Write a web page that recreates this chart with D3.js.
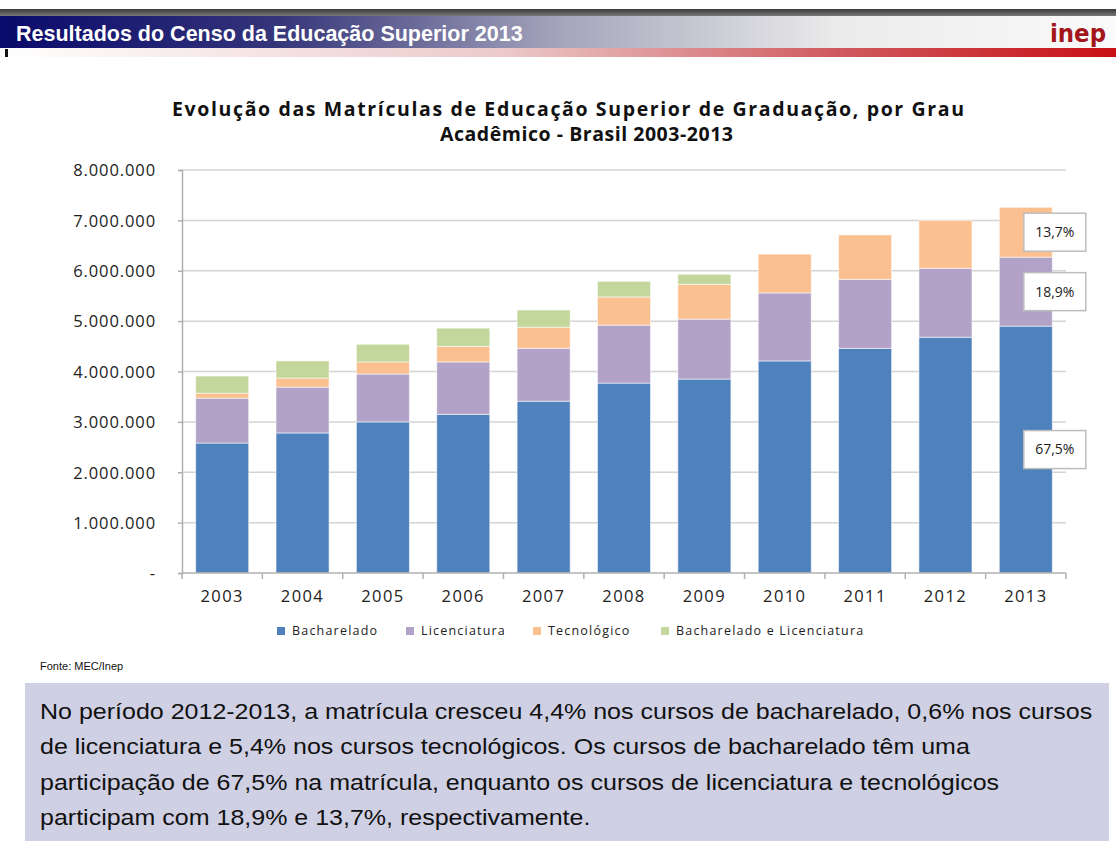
<!DOCTYPE html>
<html>
<head>
<meta charset="utf-8">
<script src="https://cdn.jsdelivr.net/npm/d3@7"></script>
<style>
  body { margin: 0; background: #fff; }
  svg { display: block; }
</style>
</head>
<body>
<script>
const years = ["2003", "2004", "2005", "2006", "2007", "2008", "2009", "2010", "2011", "2012", "2013"];
const bacharelado = [2580000, 2780000, 3000000, 3150000, 3410000, 3770000, 3850000, 4210000, 4460000, 4680000, 4900000];
const licenciatura = [890000, 910000, 950000, 1040000, 1050000, 1150000, 1190000, 1350000, 1370000, 1370000, 1370000];
const tecnologico = [100000, 180000, 240000, 310000, 420000, 560000, 690000, 770000, 880000, 950000, 990000];
const bachLic = [340000, 340000, 350000, 360000, 340000, 310000, 200000, 0, 0, 0, 0];
const seriesNames = ["Bacharelado", "Licenciatura", "Tecnológico", "Bacharelado e Licenciatura"];
const seriesColors = ["#4f81bd", "#b2a2c7", "#fac090", "#c3d69b"];
const yTicks = [0, 1000000, 2000000, 3000000, 4000000, 5000000, 6000000, 7000000, 8000000];
const shareLabels = ["67,5%", "18,9%", "13,7%"]; // 2013, por série

const W = 1116, H = 841;
const svg = d3.select("body").append("svg").attr("width", W).attr("height", H);
const defs = svg.append("defs");

// cabeçalho
const g1 = defs.append("linearGradient").attr("id", "hdr");
g1.append("stop").attr("offset", "0%").attr("stop-color", "#0a0a6c");
g1.append("stop").attr("offset", "25%").attr("stop-color", "#35357a");
g1.append("stop").attr("offset", "50%").attr("stop-color", "#a4a4bb");
g1.append("stop").attr("offset", "75%").attr("stop-color", "#ebebeb");
g1.append("stop").attr("offset", "100%").attr("stop-color", "#fafafa");
const g2 = defs.append("linearGradient").attr("id", "red");
g2.append("stop").attr("offset", "0%").attr("stop-color", "#ffffff");
g2.append("stop").attr("offset", "45%").attr("stop-color", "#eccaca");
g2.append("stop").attr("offset", "75%").attr("stop-color", "#cf5a5e");
g2.append("stop").attr("offset", "100%").attr("stop-color", "#c80f14");
const g3 = defs.append("linearGradient").attr("id", "top").attr("x2", 0).attr("y2", 1);
g3.append("stop").attr("offset", "0%").attr("stop-color", "#3a3a3a");
g3.append("stop").attr("offset", "100%").attr("stop-color", "#777");

svg.append("rect").attr("x", 0).attr("y", 9).attr("width", W).attr("height", 7).attr("fill", "url(#top)");
svg.append("rect").attr("x", 0).attr("y", 16).attr("width", W).attr("height", 32).attr("fill", "url(#hdr)");
svg.append("rect").attr("x", 0).attr("y", 48).attr("width", W).attr("height", 9).attr("fill", "url(#red)");
svg.append("rect").attr("x", 5).attr("y", 49).attr("width", 3).attr("height", 8).attr("fill", "#111");
svg.append("text").attr("x", 16).attr("y", 41)
  .attr("font-family", "Liberation Sans, Arial, sans-serif").attr("font-weight", "bold")
  .attr("font-size", 21.5).attr("fill", "#fff")
  .text("Resultados do Censo da Educação Superior 2013");
svg.append("text").attr("x", 1050).attr("y", 42)
  .attr("font-family", "DejaVu Sans, sans-serif").attr("font-weight", "bold")
  .attr("font-size", 25).attr("fill", "#a3161c")
  .attr("textLength", 56).attr("lengthAdjust", "spacingAndGlyphs")
  .text("inep");

// título do gráfico
const titleFont = "Open Sans, sans-serif";
svg.append("text").attr("x", 172).attr("y", 116)
  .attr("font-family", titleFont).attr("font-weight", "bold").attr("font-size", 19.5)
  .attr("fill", "#111").attr("textLength", 792).attr("lengthAdjust", "spacing")
  .text("Evolução das Matrículas de Educação Superior de Graduação, por Grau");
svg.append("text").attr("x", 440).attr("y", 141)
  .attr("font-family", titleFont).attr("font-weight", "bold").attr("font-size", 19.5)
  .attr("fill", "#111").attr("textLength", 293).attr("lengthAdjust", "spacing")
  .text("Acadêmico - Brasil 2003-2013");

// escalas
const x = d3.scaleBand().domain(years).range([182, 1066]).paddingInner(0.34).paddingOuter(0.17);
const y = d3.scaleLinear().domain([0, 8000000]).range([573, 170]);

const tickFmt = v => v === 0 ? "-" : d3.format(",")(v).replace(/,/g, ".");

// grade
svg.append("g").selectAll("line").data(yTicks.slice(1)).join("line")
  .attr("x1", 182).attr("x2", 1066)
  .attr("y1", d => y(d)).attr("y2", d => y(d))
  .attr("stroke", "#d4d4d4").attr("stroke-width", 1.5);

// barras empilhadas
const table = years.map((yr, i) => ({
  year: yr,
  "Bacharelado": bacharelado[i],
  "Licenciatura": licenciatura[i],
  "Tecnológico": tecnologico[i],
  "Bacharelado e Licenciatura": bachLic[i]
}));
const stack = d3.stack().keys(seriesNames)(table);

svg.append("g").selectAll("g").data(stack).join("g")
  .attr("fill", (d, i) => seriesColors[i])
  .selectAll("rect").data(d => d.filter(p => p[1] > p[0])).join("rect")
  .attr("x", d => x(d.data.year))
  .attr("width", x.bandwidth())
  .attr("y", d => y(d[1]))
  .attr("height", d => y(d[0]) - y(d[1]))
  .attr("stroke", "#ffffff").attr("stroke-opacity", 0.55).attr("stroke-width", 1);

// eixos
const yAxis = svg.append("g").attr("transform", "translate(182,0)")
  .call(d3.axisLeft(y).tickValues(yTicks).tickFormat(tickFmt).tickSize(4).tickPadding(22));
yAxis.select(".domain").attr("stroke", "#b0b0b0").attr("stroke-width", 1.5);
yAxis.selectAll(".tick line").attr("stroke", "#b0b0b0").attr("stroke-width", 1.5);
yAxis.selectAll(".tick text").attr("font-family", "Open Sans, sans-serif")
  .attr("font-size", 16.5).attr("fill", "#222").attr("letter-spacing", 0.9)
  .attr("dy", "0.35em");

const xAxis = svg.append("g").attr("transform", "translate(0,573)");
xAxis.append("line").attr("x1", 182).attr("x2", 1066).attr("y1", 0).attr("y2", 0)
  .attr("stroke", "#b0b0b0").attr("stroke-width", 1.5);
xAxis.selectAll("line.tk").data(d3.range(years.length + 1)).join("line").attr("class", "tk")
  .attr("x1", i => 182 + i * x.step()).attr("x2", i => 182 + i * x.step())
  .attr("y1", 0).attr("y2", 6).attr("stroke", "#b0b0b0").attr("stroke-width", 1.5);
xAxis.selectAll("text").data(years).join("text")
  .attr("x", d => x(d) + x.bandwidth() / 2).attr("y", 29)
  .attr("text-anchor", "middle")
  .attr("font-family", "Open Sans, sans-serif").attr("font-size", 16.5)
  .attr("fill", "#222").attr("letter-spacing", 1.4)
  .text(d => d);

// rótulos de participação 2013
const last = years.length - 1;
const labelData = stack.slice(0, 3).map((s, i) => ({
  mid: (s[last][0] + s[last][1]) / 2,
  text: shareLabels[i]
}));
const lab = svg.append("g").selectAll("g").data(labelData).join("g")
  .attr("transform", d => `translate(${x(years[last]) + x.bandwidth() / 2 + 29},${y(d.mid)})`);
lab.append("rect").attr("x", -31).attr("y", -19).attr("width", 62).attr("height", 38)
  .attr("fill", "#fff").attr("stroke", "#bdbdbd").attr("stroke-width", 1.5);
lab.append("text").attr("text-anchor", "middle").attr("dy", "0.35em")
  .attr("font-family", "Open Sans, sans-serif").attr("font-size", 14)
  .attr("fill", "#222").text(d => d.text);

// legenda
const legendX = [277, 406, 533, 661];
const leg = svg.append("g").selectAll("g").data(seriesNames).join("g")
  .attr("transform", (d, i) => `translate(${legendX[i]},631)`);
leg.append("rect").attr("x", 0).attr("y", -4).attr("width", 8).attr("height", 8)
  .attr("fill", (d, i) => seriesColors[i]);
leg.append("text").attr("x", 15).attr("dy", "0.35em")
  .attr("font-family", "Open Sans, sans-serif").attr("font-size", 12.5)
  .attr("fill", "#222").attr("letter-spacing", 1.2)
  .text(d => d);

// fonte
svg.append("text").attr("x", 40).attr("y", 670)
  .attr("font-family", "Liberation Sans, Arial, sans-serif").attr("font-size", 11)
  .attr("fill", "#111").text("Fonte: MEC/Inep");

// caixa de texto
svg.append("rect").attr("x", 25).attr("y", 683).attr("width", 1084).attr("height", 158)
  .attr("fill", "#cfd0e3");
const para = [
  "No período 2012-2013, a matrícula cresceu 4,4% nos cursos de bacharelado, 0,6% nos cursos",
  "de licenciatura e 5,4% nos cursos tecnológicos. Os cursos de bacharelado têm uma",
  "participação de 67,5% na matrícula, enquanto os cursos de licenciatura e tecnológicos",
  "participam com 18,9% e 13,7%, respectivamente."
];
svg.append("g").attr("transform", "translate(40,0) scale(1.137,1)")
  .selectAll("text").data(para).join("text")
  .attr("x", 0).attr("y", (d, i) => 719 + i * 35.3)
  .attr("font-family", "Liberation Sans, Arial, sans-serif").attr("font-size", 22)
  .attr("fill", "#111").text(d => d);
</script>
</body>
</html>
